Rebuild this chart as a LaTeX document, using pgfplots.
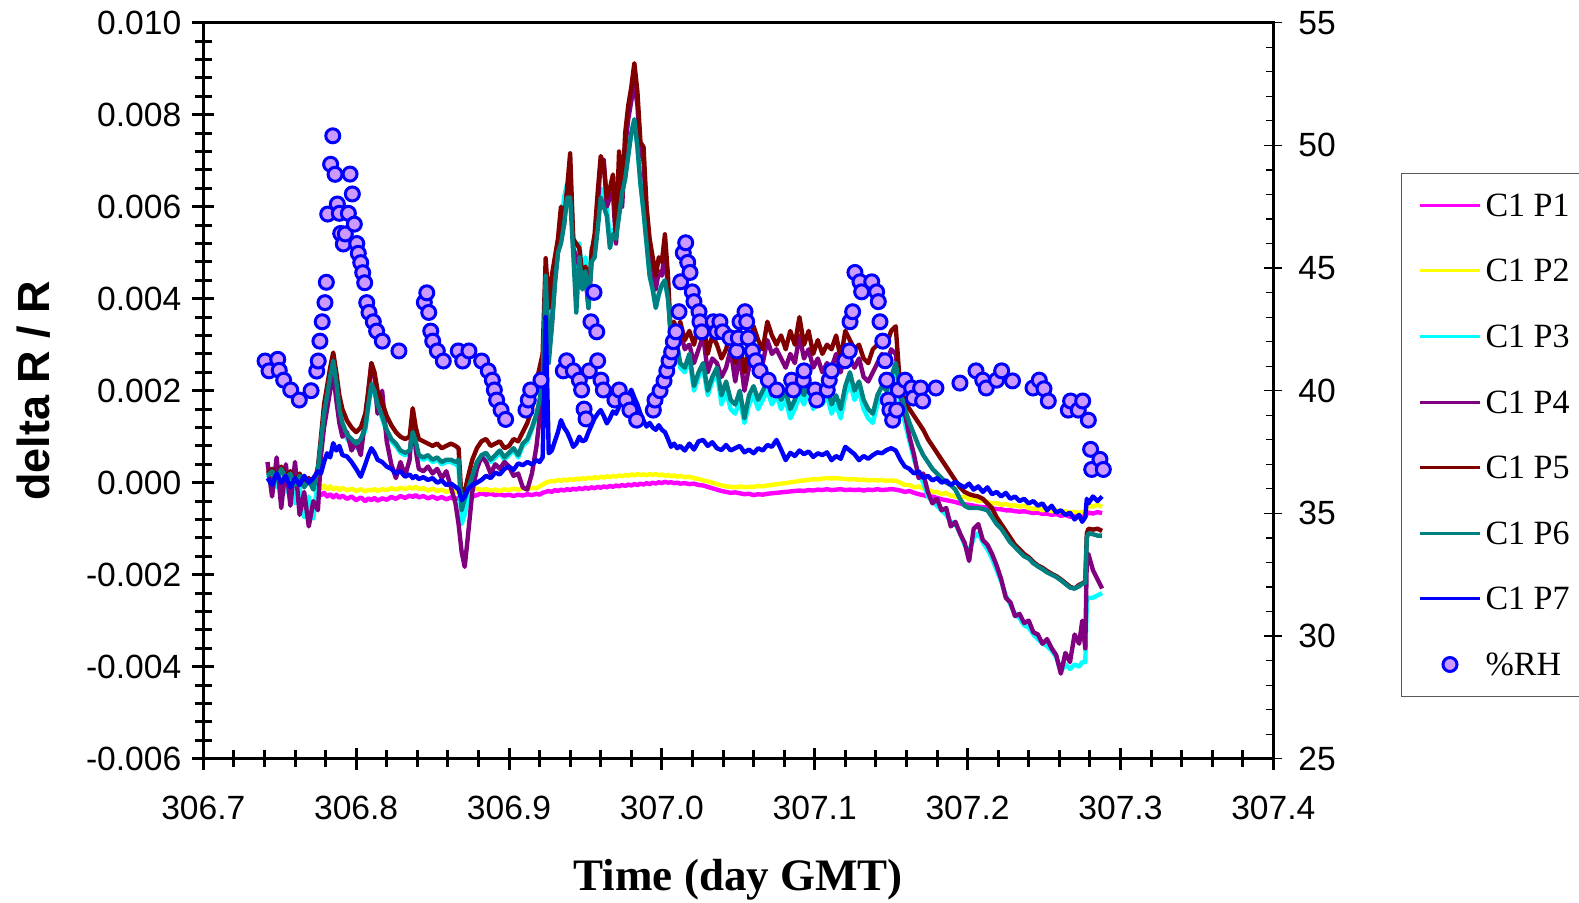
\documentclass[border=0pt]{standalone}
\usepackage{fontspec}
\setmainfont{Liberation Serif}
\newfontfamily\arial{Liberation Sans}
\usepackage{pgfplots}
\usepackage{pgfplotstable}
\pgfplotsset{compat=1.18}

\definecolor{cP1}{RGB}{255,0,255}
\definecolor{cP2}{RGB}{255,255,0}
\definecolor{cP3}{RGB}{0,255,255}
\definecolor{cP4}{RGB}{128,0,128}
\definecolor{cP5}{RGB}{128,0,0}
\definecolor{cP6}{RGB}{0,128,128}
\definecolor{cP7}{RGB}{0,0,255}
\definecolor{rhfill}{RGB}{204,153,255}

\pgfplotsset{
  linelegend/.style={legend image code/.code={\draw[##1] (0pt,0pt) -- (30pt,0pt);}},
  marklegend/.style={legend image code/.code={\draw[mark repeat=2, mark phase=2, ##1] plot coordinates {(0pt,0pt) (15pt,0pt) (30pt,0pt)};}},
}

% dR/R values in units of 0.001
\pgfplotstableread{
x p1 p2 p3 p4 p5 p6 p7
306.742 nan nan 0.10 0.45 0.20 0.15 0.10
306.745 nan nan 0.20 -0.30 0.30 0.25 -0.05
306.748 nan nan -0.10 0.55 0.10 0.05 0.20
306.751 nan nan 0.25 -0.55 0.35 0.30 0.00
306.754 nan nan -0.20 0.40 0.15 0.10 0.15
306.757 nan nan 0.10 -0.50 0.25 0.20 -0.10
306.760 nan nan -0.45 0.45 0.00 -0.05 0.10
306.763 nan nan -0.10 -0.70 0.20 0.15 -0.05
306.766 nan nan -0.75 -0.20 -0.05 -0.10 0.15
306.769 nan nan -0.30 -0.95 0.10 0.05 0.00
306.772 nan nan -0.78 -0.40 -0.10 -0.15 0.10
306.775 -0.23 -0.09 0.10 -0.60 0.35 0.30 0.25
306.777 -0.27 -0.12 0.80 0.60 1.00 0.90 0.20
306.779 -0.22 -0.06 1.40 1.20 1.70 1.50 0.45
306.781 -0.30 -0.14 1.80 1.60 2.10 1.90 0.64
306.783 -0.25 -0.08 2.30 2.00 2.50 2.30 0.55
306.785 -0.32 -0.15 2.60 2.40 2.83 2.65 0.86
306.787 -0.26 -0.10 2.10 1.80 2.40 2.20 0.70
306.789 -0.33 -0.16 1.50 1.30 1.90 1.60 0.80
306.791 -0.28 -0.11 1.20 1.00 1.60 1.30 0.60
306.794 -0.35 -0.17 0.95 1.10 1.35 1.05 0.57
306.797 -0.30 -0.13 0.85 0.70 1.20 0.95 0.45
306.800 -0.38 -0.18 0.75 0.90 1.10 0.85 0.30
306.803 -0.32 -0.14 0.90 0.60 1.20 0.95 0.13
306.806 -0.40 -0.19 1.15 1.40 1.50 1.20 0.40
306.808 -0.34 -0.15 1.65 2.00 2.00 1.70 0.60
306.810 -0.38 -0.17 2.10 2.60 2.60 2.15 0.75
306.812 -0.33 -0.14 1.95 2.30 2.40 2.00 0.65
306.814 -0.39 -0.18 1.65 1.50 2.00 1.70 0.50
306.817 -0.34 -0.14 1.40 2.00 1.75 1.45 0.45
306.820 -0.37 -0.16 1.10 0.90 1.45 1.15 0.35
306.823 -0.31 -0.12 0.90 0.40 1.25 0.95 0.30
306.826 -0.35 -0.15 0.80 0.10 1.10 0.85 0.20
306.829 -0.29 -0.11 0.65 0.45 1.00 0.70 0.25
306.832 -0.33 -0.14 0.60 0.15 0.95 0.65 0.13
306.835 -0.28 -0.10 0.65 0.50 1.00 0.70 0.18
306.837 -0.31 -0.13 1.05 1.58 1.62 1.10 0.10
306.839 -0.27 -0.09 0.85 0.70 1.20 0.90 0.15
306.841 -0.32 -0.14 0.55 0.30 0.95 0.60 0.08
306.844 -0.29 -0.12 0.50 0.25 0.90 0.55 0.12
306.847 -0.34 -0.17 0.55 0.35 0.85 0.60 0.06
306.850 -0.30 -0.13 0.45 0.20 0.80 0.50 0.10
306.853 -0.35 -0.18 0.50 0.30 0.85 0.55 0.00
306.856 -0.31 -0.15 0.40 0.10 0.75 0.45 0.05
306.859 -0.36 -0.20 0.45 0.25 0.80 0.50 -0.05
306.862 -0.32 -0.17 0.45 -0.10 0.85 0.50 -0.02
306.865 -0.36 -0.21 0.40 -0.45 0.80 0.45 -0.09
306.867 -0.33 -0.18 0.35 -0.90 0.75 0.50 -0.15
306.869 -0.38 -0.22 -0.90 -1.50 -0.40 -0.60 -0.38
306.871 -0.34 -0.19 -0.70 -1.83 -0.20 -0.35 -0.30
306.873 -0.37 -0.21 -0.40 -1.20 0.10 -0.15 -0.15
306.876 -0.30 -0.16 0.00 -0.20 0.50 0.15 -0.05
306.879 -0.27 -0.13 0.35 0.30 0.75 0.45 0.00
306.882 -0.23 -0.16 0.55 0.57 0.90 0.60 0.06
306.885 -0.26 -0.14 0.60 0.45 0.95 0.65 0.15
306.888 -0.24 -0.17 0.45 0.20 0.80 0.50 0.10
306.891 -0.27 -0.15 0.55 0.40 0.85 0.60 0.22
306.894 -0.25 -0.18 0.65 0.30 0.90 0.70 0.18
306.897 -0.28 -0.14 0.50 0.45 0.75 0.55 0.30
306.900 -0.26 -0.16 0.60 0.35 0.80 0.65 0.35
306.903 -0.29 -0.13 0.70 0.15 0.95 0.75 0.28
306.906 -0.26 -0.15 0.55 0.20 0.90 0.60 0.42
306.909 -0.28 -0.12 0.80 -0.10 1.10 0.85 0.38
306.912 -0.25 -0.14 0.90 -0.15 1.30 0.95 0.45
306.915 -0.27 -0.11 1.15 0.20 1.60 1.20 0.40
306.918 -0.24 -0.12 1.45 0.80 2.20 1.50 0.49
306.920 -0.26 -0.08 1.75 1.40 2.50 1.80 0.45
306.922 -0.22 -0.04 2.30 2.00 2.80 2.20 0.55
306.924 -0.20 0.00 4.60 4.40 4.88 4.50 3.60
306.926 -0.18 0.02 3.00 2.80 3.80 2.60 0.64
306.928 -0.20 0.04 3.70 3.40 4.50 3.40 0.70
306.930 -0.16 0.03 4.60 4.40 4.90 4.30 0.90
306.932 -0.18 0.06 5.20 5.00 5.30 5.00 1.10
306.934 -0.15 0.04 5.50 5.40 6.00 5.20 1.36
306.936 -0.17 0.07 6.20 5.70 5.60 5.60 1.20
306.938 -0.14 0.05 6.50 6.30 6.40 6.20 1.10
306.940 -0.16 0.08 6.40 6.80 7.16 6.20 0.95
306.942 -0.13 0.06 5.40 5.10 5.30 5.00 0.78
306.944 -0.15 0.09 4.00 4.90 5.20 3.70 0.85
306.946 -0.12 0.07 5.20 4.70 5.10 4.90 1.00
306.948 -0.14 0.10 4.50 4.30 4.50 4.20 0.90
306.950 -0.11 0.08 4.90 4.50 4.70 4.60 0.93
306.952 -0.13 0.11 4.10 3.80 3.90 3.80 1.10
306.954 -0.10 0.09 5.10 4.80 5.00 4.80 1.25
306.956 -0.12 0.12 5.20 5.20 5.40 4.90 1.40
306.958 -0.09 0.10 5.80 6.00 6.30 5.50 1.50
306.960 -0.11 0.13 6.40 7.00 7.10 6.20 1.58
306.962 -0.08 0.11 6.20 7.02 6.90 6.00 1.45
306.964 -0.10 0.14 6.00 6.00 6.20 5.80 1.29
306.966 -0.07 0.12 5.30 6.20 6.40 5.10 1.40
306.968 -0.09 0.15 5.50 6.30 6.70 5.40 1.55
306.970 -0.06 0.13 5.40 5.20 5.30 5.30 1.50
306.972 -0.08 0.16 5.90 6.80 7.20 5.80 1.65
306.974 -0.05 0.14 6.40 6.00 6.20 6.30 1.75
306.976 -0.07 0.17 6.70 7.30 7.60 6.60 1.85
306.978 -0.04 0.15 7.20 7.90 8.20 7.10 1.90
306.980 -0.06 0.18 7.60 8.30 8.60 7.60 2.02
306.982 -0.03 0.16 7.90 8.70 9.12 7.90 1.85
306.984 -0.05 0.19 7.30 8.20 8.50 7.30 1.70
306.986 -0.02 0.17 6.50 7.20 7.40 6.50 1.50
306.988 -0.04 0.18 5.90 7.00 7.30 5.90 1.35
306.990 -0.01 0.16 5.20 5.80 6.00 5.20 1.22
306.992 -0.03 0.19 4.50 5.00 5.30 4.50 1.30
306.994 0.00 0.17 4.20 4.70 4.90 4.20 1.20
306.996 -0.02 0.19 3.80 4.20 4.50 3.80 1.15
306.998 0.01 0.16 4.10 4.60 4.90 4.10 1.25
307.000 -0.01 0.18 4.30 4.50 4.80 4.30 1.15
307.002 0.02 0.15 4.40 5.10 5.40 4.40 1.10
307.004 0.00 0.17 4.00 4.20 4.50 4.00 0.95
307.006 0.01 0.14 3.20 3.00 3.10 3.20 0.78
307.008 -0.01 0.16 2.80 3.20 3.50 2.80 0.85
307.010 0.00 0.13 2.90 3.10 3.20 3.00 0.75
307.012 -0.02 0.15 2.50 3.30 3.50 2.60 0.80
307.015 -0.01 0.12 2.40 2.90 3.10 2.50 0.70
307.018 -0.03 0.13 2.70 3.00 3.30 2.80 0.85
307.021 -0.02 0.10 2.00 2.60 3.00 2.10 0.72
307.024 -0.05 0.08 2.30 2.90 3.40 2.40 0.90
307.027 -0.06 0.05 2.50 3.20 3.60 2.60 0.93
307.030 -0.09 0.03 1.90 2.40 2.80 2.00 0.80
307.033 -0.12 0.00 2.20 2.70 3.20 2.30 0.88
307.036 -0.15 -0.03 2.40 2.60 3.00 2.50 0.75
307.039 -0.18 -0.06 1.70 2.30 2.70 1.90 0.71
307.042 -0.20 -0.08 2.00 2.50 2.90 2.20 0.82
307.045 -0.22 -0.09 1.60 2.90 3.30 1.80 0.70
307.048 -0.21 -0.10 1.50 2.20 2.60 1.70 0.75
307.051 -0.23 -0.08 1.80 2.80 3.10 2.00 0.80
307.054 -0.25 -0.10 1.30 2.00 2.40 1.40 0.66
307.057 -0.24 -0.09 1.70 2.50 2.90 1.90 0.72
307.060 -0.27 -0.09 1.90 3.00 3.40 2.10 0.64
307.063 -0.25 -0.07 1.60 2.70 3.10 1.80 0.75
307.066 -0.26 -0.08 1.80 2.60 2.90 2.00 0.70
307.069 -0.24 -0.06 2.00 3.10 3.50 2.20 0.82
307.072 -0.23 -0.05 1.70 2.80 3.20 1.90 0.78
307.075 -0.22 -0.03 1.90 2.90 3.00 2.10 0.93
307.078 -0.21 -0.02 1.60 2.70 3.20 1.80 0.72
307.081 -0.20 -0.01 1.80 2.50 2.90 2.00 0.49
307.084 -0.19 0.01 1.40 2.80 3.30 1.60 0.65
307.087 -0.18 0.02 1.60 2.60 3.00 1.80 0.58
307.090 -0.17 0.04 1.90 3.20 3.60 2.10 0.70
307.093 -0.18 0.05 1.70 2.70 3.00 1.90 0.62
307.096 -0.16 0.06 2.00 2.90 3.30 2.20 0.68
307.099 -0.17 0.08 1.60 2.50 2.80 1.80 0.56
307.102 -0.15 0.07 1.80 2.70 3.10 2.00 0.64
307.105 -0.16 0.09 1.70 2.40 2.80 1.90 0.60
307.108 -0.14 0.10 1.90 2.60 3.00 2.10 0.66
307.111 -0.16 0.09 1.50 2.50 2.90 1.70 0.49
307.114 -0.15 0.10 1.70 2.80 3.20 1.90 0.58
307.117 -0.14 0.09 1.40 2.40 2.70 1.60 0.52
307.120 -0.16 0.08 1.90 2.90 3.30 2.10 0.78
307.123 -0.15 0.07 2.20 2.70 3.10 2.40 0.70
307.126 -0.16 0.08 1.80 2.50 2.90 2.00 0.62
307.129 -0.15 0.06 2.00 2.70 3.00 2.20 0.49
307.132 -0.17 0.07 1.60 2.30 2.70 1.80 0.58
307.135 -0.15 0.05 1.40 2.20 2.60 1.60 0.52
307.138 -0.16 0.06 1.30 2.40 2.90 1.50 0.60
307.141 -0.14 0.05 1.70 2.60 3.00 1.90 0.66
307.144 -0.16 0.06 1.90 2.80 3.10 2.10 0.64
307.147 -0.15 0.04 1.80 2.60 3.00 2.00 0.71
307.150 -0.14 0.05 2.10 2.90 3.30 2.30 0.75
307.153 -0.15 0.04 2.60 2.80 3.40 2.60 0.70
307.156 -0.17 0.00 1.70 1.90 2.00 2.00 0.50
307.159 -0.20 -0.05 1.30 1.50 1.75 1.60 0.35
307.162 -0.18 -0.05 0.90 1.00 1.60 1.30 0.30
307.165 -0.22 -0.10 0.50 0.60 1.45 1.05 0.20
307.168 -0.25 -0.08 0.20 0.10 1.30 0.80 0.25
307.171 -0.27 -0.12 0.00 0.20 1.15 0.60 0.10
307.174 -0.30 -0.15 -0.30 -0.20 0.95 0.45 0.15
307.177 -0.30 -0.20 -0.40 -0.45 0.80 0.30 0.05
307.180 -0.33 -0.20 -0.50 -0.35 0.65 0.20 0.10
307.183 -0.36 -0.25 -0.60 -0.60 0.50 0.10 0.00
307.186 -0.38 -0.22 -0.70 -0.55 0.35 0.00 0.05
307.189 -0.40 -0.28 -0.85 -0.95 0.20 -0.05 -0.05
307.192 -0.42 -0.30 -0.90 -0.85 0.05 -0.15 0.02
307.195 -0.45 -0.33 -1.10 -1.10 -0.10 -0.35 -0.05
307.198 -0.47 -0.30 -1.35 -1.30 -0.20 -0.50 -0.10
307.201 -0.48 -0.36 -1.50 -1.70 -0.25 -0.55 -0.02
307.204 -0.50 -0.35 -1.20 -1.00 -0.28 -0.55 -0.15
307.207 -0.52 -0.40 -1.10 -0.90 -0.30 -0.55 -0.08
307.210 -0.53 -0.38 -1.30 -1.25 -0.35 -0.57 -0.20
307.213 -0.54 -0.42 -1.45 -1.35 -0.45 -0.60 -0.10
307.216 -0.56 -0.45 -1.65 -1.55 -0.55 -0.75 -0.25
307.219 -0.57 -0.44 -1.90 -1.80 -0.75 -0.90 -0.20
307.222 -0.58 -0.48 -2.15 -2.10 -0.90 -1.00 -0.30
307.225 -0.60 -0.46 -2.45 -2.50 -1.05 -1.15 -0.22
307.228 -0.60 -0.50 -2.65 -2.60 -1.20 -1.30 -0.35
307.231 -0.62 -0.49 -2.85 -2.90 -1.35 -1.40 -0.30
307.234 -0.63 -0.52 -2.95 -2.85 -1.45 -1.50 -0.40
307.237 -0.62 -0.50 -3.10 -3.05 -1.55 -1.60 -0.35
307.240 -0.64 -0.55 -3.15 -3.00 -1.62 -1.65 -0.45
307.243 -0.66 -0.57 -3.30 -3.25 -1.72 -1.75 -0.40
307.246 -0.65 -0.56 -3.40 -3.30 -1.80 -1.82 -0.50
307.249 -0.68 -0.60 -3.50 -3.50 -1.85 -1.88 -0.45
307.252 -0.67 -0.58 -3.55 -3.40 -1.92 -1.95 -0.60
307.255 -0.70 -0.62 -3.65 -3.60 -1.98 -2.00 -0.50
307.258 -0.68 -0.60 -3.80 -3.75 -2.03 -2.05 -0.65
307.261 -0.72 -0.63 -4.10 -4.15 -2.10 -2.12 -0.60
307.264 -0.70 -0.62 -3.95 -3.70 -2.18 -2.20 -0.70
307.267 -0.74 -0.65 -4.05 -3.90 -2.26 -2.28 -0.65
307.270 -0.72 -0.63 -3.95 -3.30 -2.30 -2.30 -0.80
307.273 -0.75 -0.66 -4.00 -3.50 -2.22 -2.25 -0.70
307.275 -0.73 -0.64 -3.90 -3.00 -2.19 -2.20 -0.85
307.277 -0.74 -0.65 -3.90 -3.60 -2.15 -2.18 -0.75
307.278 -0.68 -0.55 -2.60 -1.60 -1.10 -1.20 -0.35
307.279 -0.65 -0.50 -2.50 -1.55 -1.00 -1.10 -0.45
307.282 -0.67 -0.52 -2.50 -1.90 -1.02 -1.12 -0.30
307.285 -0.64 -0.48 -2.45 -2.10 -1.00 -1.15 -0.40
307.288 -0.66 -0.52 -2.40 -2.30 -1.05 -1.15 -0.30
}\lines

\pgfplotstableread{
x rh
306.7404 41.21
306.7430 40.81
306.7487 41.28
306.7497 40.83
306.7526 40.43
306.7572 40.03
306.7628 39.62
306.7705 40.00
306.7742 40.80
306.7752 41.21
306.7763 42.02
306.7778 42.81
306.7796 43.59
306.7805 44.42
306.7814 47.20
306.7833 49.23
306.7847 50.39
306.7862 48.82
306.7877 47.61
306.7890 47.23
306.7899 46.41
306.7916 45.98
306.7929 46.39
306.7949 47.23
306.7960 48.83
306.7975 48.02
306.7988 46.79
306.8004 46.00
306.8014 45.60
306.8030 45.22
306.8043 44.81
306.8056 44.40
306.8069 43.59
306.8084 43.19
306.8112 42.81
306.8134 42.43
306.8171 42.02
306.8280 41.62
306.8446 43.60
306.8462 43.99
306.8475 43.19
306.8488 42.43
306.8501 42.02
306.8531 41.62
306.8570 41.21
306.8668 41.62
306.8697 41.21
306.8738 41.62
306.8821 41.21
306.8864 40.81
306.8891 40.43
306.8904 40.03
306.8919 39.62
306.8948 39.21
306.8978 38.83
306.9111 39.21
306.9126 39.62
306.9142 40.03
306.9209 40.43
306.9355 40.81
306.9377 41.22
306.9421 40.81
306.9460 40.43
306.9475 40.03
306.9491 39.25
306.9504 38.85
306.9525 40.81
306.9536 42.81
306.9556 44.01
306.9574 42.40
306.9580 41.22
306.9602 40.43
306.9617 40.03
306.9693 39.62
306.9721 40.03
306.9765 39.62
306.9791 39.21
306.9835 38.80
306.9944 39.21
306.9955 39.62
306.9988 40.00
307.0014 40.40
307.0032 40.81
307.0047 41.22
307.0064 41.58
307.0075 42.00
307.0092 42.40
307.0112 43.22
307.0123 44.44
307.0140 45.62
307.0156 46.03
307.0169 45.23
307.0184 44.82
307.0199 44.03
307.0210 43.63
307.0243 43.22
307.0249 42.81
307.0261 42.40
307.0336 42.81
307.0359 42.40
307.0380 42.81
307.0398 42.40
307.0446 42.15
307.0490 41.62
307.0500 42.15
307.0511 42.81
307.0544 43.22
307.0555 42.81
307.0565 42.15
307.0592 41.62
307.0614 41.22
307.0642 40.81
307.0696 40.43
307.0751 40.03
307.0849 40.43
307.0860 40.03
307.0925 40.43
307.0930 40.81
307.1002 40.03
307.1013 39.62
307.1082 40.03
307.1095 40.43
307.1111 40.81
307.1198 41.22
307.1226 41.62
307.1231 42.81
307.1248 43.22
307.1263 44.82
307.1296 44.44
307.1307 44.03
307.1373 44.44
307.1405 44.03
307.1416 43.63
307.1427 42.81
307.1445 42.02
307.1460 41.22
307.1471 40.43
307.1481 39.62
307.1492 39.21
307.1510 38.80
307.1536 39.21
307.1547 40.03
307.1591 40.43
307.1634 40.11
307.1645 39.70
307.1693 40.11
307.1706 39.58
307.1793 40.11
307.1950 40.31
307.2055 40.81
307.2099 40.43
307.2122 40.11
307.2190 40.43
307.2223 40.81
307.2294 40.40
307.2428 40.11
307.2469 40.43
307.2500 40.08
307.2528 39.58
307.2659 39.21
307.2674 39.58
307.2724 39.21
307.2753 39.58
307.2790 38.80
307.2805 37.61
307.2812 36.79
307.2866 37.20
307.2888 36.79
}\rhdata

\begin{document}
\begin{tikzpicture}
\begin{axis}[
  name=main,
  scale only axis, width=535pt, height=368pt,
  xmin=306.7, xmax=307.4, ymin=-6, ymax=10,
  xtick={306.7,306.8,306.9,307.0,307.1,307.2,307.3,307.4},
  xticklabels={306.7,306.8,306.9,307.0,307.1,307.2,307.3,307.4},
  ytick={-6,-4,-2,0,2,4,6,8,10},
  yticklabels={-0.006,-0.004,-0.002,0.000,0.002,0.004,0.006,0.008,0.010},
  minor x tick num=4, minor y tick num=4,
  xtick pos=left, ytick pos=left,
  tick align=center, major tick length=11pt, minor tick length=8.5pt,
  every tick/.style={black, line width=1.5pt},
  axis line style={line width=1.5pt},
  tick label style={font=\arial\fontsize{16.8}{19}\selectfont},
  yticklabel style={xshift=-2pt},
  xticklabel style={yshift=-9.5pt},
  every axis plot/.append style={line width=2.2pt, line join=round},
]
\addplot[cP1, no markers] table[x=x, y=p1] {\lines};
\addplot[cP2, no markers] table[x=x, y=p2] {\lines};
\addplot[cP3, no markers] table[x=x, y=p3] {\lines};
\addplot[cP4, no markers] table[x=x, y=p4] {\lines};
\addplot[cP5, no markers] table[x=x, y=p5] {\lines};
\addplot[cP6, no markers] table[x=x, y=p6] {\lines};
\addplot[cP7, no markers] table[x=x, y=p7] {\lines};
\end{axis}
\begin{axis}[
  scale only axis, width=535pt, height=368pt,
  xmin=306.7, xmax=307.4, ymin=25, ymax=55,
  axis x line=none, axis y line*=right,
  ytick={25,30,35,40,45,50,55},
  yticklabels={25,30,35,40,45,50,55},
  minor y tick num=4,
  tick align=inside, major tick length=9pt, minor tick length=3.7pt,
  every major tick/.append style={xshift=4.5pt},
  every tick/.style={black, line width=0.6pt},
  axis line style={-, line width=1.2pt},
  tick label style={font=\arial\fontsize{16.8}{19}\selectfont},
  yticklabel style={xshift=9pt},
  linelegend,
  legend cell align=left,
  legend style={at={(1,1)}, anchor=north west, xshift=63.7pt, yshift=-75pt,
    draw=black!65, line width=0.6pt, fill=white,
    font=\fontsize{17}{20}\selectfont,
    inner xsep=8.6pt, inner ysep=9.5pt, row sep=19.8pt, column sep=2pt,
    nodes={inner sep=0pt, text height=12pt, text depth=1pt}},
]
\addlegendimage{cP1, line width=1.5pt}\addlegendentry{C1 P1}
\addlegendimage{cP2, line width=1.5pt}\addlegendentry{C1 P2}
\addlegendimage{cP3, line width=1.5pt}\addlegendentry{C1 P3}
\addlegendimage{cP4, line width=1.5pt}\addlegendentry{C1 P4}
\addlegendimage{cP5, line width=1.5pt}\addlegendentry{C1 P5}
\addlegendimage{cP6, line width=1.5pt}\addlegendentry{C1 P6}
\addlegendimage{cP7, line width=1.5pt}\addlegendentry{C1 P7}
\addplot[only marks, mark=*, mark size=3.5pt,
  mark options={fill=rhfill, draw=cP7, line width=1.5pt}, marklegend]
  table[x=x, y=rh] {\rhdata};
\addlegendentry{\%RH}
\end{axis}
\node[rotate=90, anchor=center, font=\arial\bfseries\fontsize{22.5}{26}\selectfont]
  at ([xshift=-84.6pt]main.west) {delta R / R};
\node[anchor=center, font=\bfseries\fontsize{22.5}{26}\selectfont]
  at ([yshift=-60.6pt]main.south) {Time (day GMT)};
\pgfresetboundingbox
\useasboundingbox ([shift={(-101.65pt,-71.65pt)}]main.south west) rectangle ([shift={(687.85pt,379.35pt)}]main.south west);
\end{tikzpicture}
\end{document}
